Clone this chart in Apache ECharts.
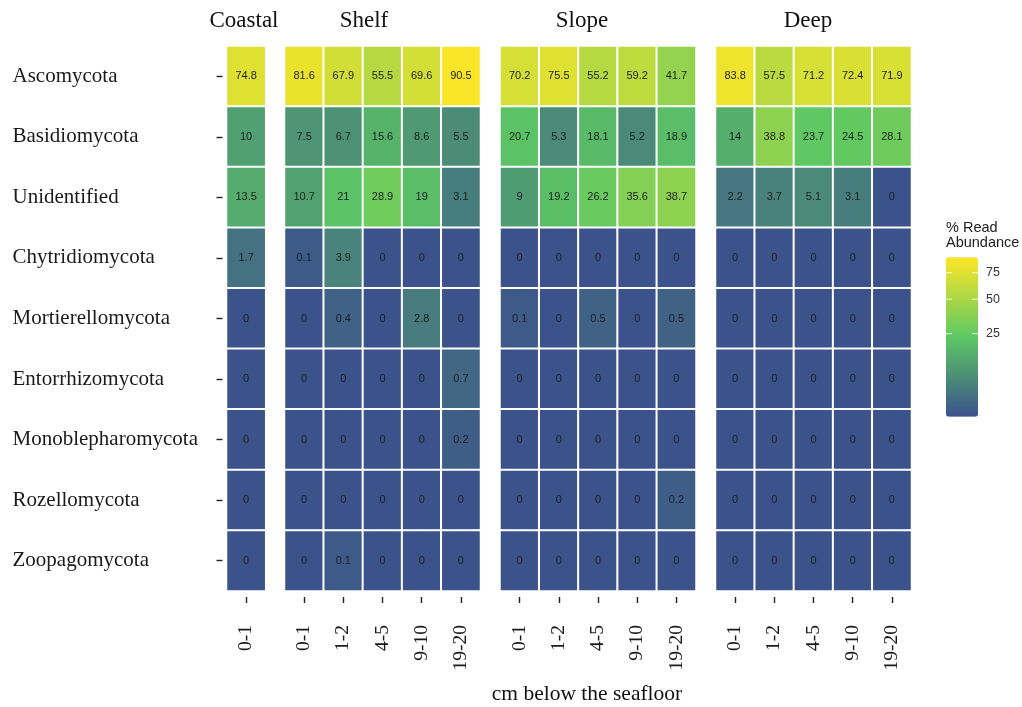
<!DOCTYPE html>
<html>
<head>
<meta charset="utf-8">
<title>Fungal phyla read abundance by zone and depth</title>
<script src="https://cdn.jsdelivr.net/npm/echarts@6/dist/echarts.min.js"></script>
<style>
  html, body { margin: 0; padding: 0; background: #ffffff; }
  #chart { width: 1022px; height: 707px; }
</style>
</head>
<body>
<div id="chart"></div>
<script>
// Phyla, top to bottom
const phyla = [
  'Ascomycota', 'Basidiomycota', 'Unidentified', 'Chytridiomycota',
  'Mortierellomycota', 'Entorrhizomycota', 'Monoblepharomycota',
  'Rozellomycota', 'Zoopagomycota'
];

// Sediment depth intervals (cm)
const coastalDepths = ['0-1'];
const depths = ['0-1', '1-2', '4-5', '9-10', '19-20'];

// % read abundance: one row per phylum, one column per depth
const coastal = [[74.8], [10], [13.5], [1.7], [0], [0], [0], [0], [0]];

const shelf = [
  [81.6, 67.9, 55.5, 69.6, 90.5],
  [7.5, 6.7, 15.6, 8.6, 5.5],
  [10.7, 21, 28.9, 19, 3.1],
  [0.1, 3.9, 0, 0, 0],
  [0, 0.4, 0, 2.8, 0],
  [0, 0, 0, 0, 0.7],
  [0, 0, 0, 0, 0.2],
  [0, 0, 0, 0, 0],
  [0, 0.1, 0, 0, 0]
];

const slope = [
  [70.2, 75.5, 55.2, 59.2, 41.7],
  [20.7, 5.3, 18.1, 5.2, 18.9],
  [9, 19.2, 26.2, 35.6, 38.7],
  [0, 0, 0, 0, 0],
  [0.1, 0, 0.5, 0, 0.5],
  [0, 0, 0, 0, 0],
  [0, 0, 0, 0, 0],
  [0, 0, 0, 0, 0.2],
  [0, 0, 0, 0, 0]
];

const deep = [
  [83.8, 57.5, 71.2, 72.4, 71.9],
  [14, 38.8, 23.7, 24.5, 28.1],
  [2.2, 3.7, 5.1, 3.1, 0],
  [0, 0, 0, 0, 0],
  [0, 0, 0, 0, 0],
  [0, 0, 0, 0, 0],
  [0, 0, 0, 0, 0],
  [0, 0, 0, 0, 0],
  [0, 0, 0, 0, 0]
];

const zoneNames = ['Coastal', 'Shelf', 'Slope', 'Deep'];
const zoneDepths = [coastalDepths, depths, depths, depths];
const zoneValues = [coastal, shelf, slope, deep];

// Colour scale (square-root transformed) and legend breaks
const scaleMax = 92;
const legendBreaks = [25, 50, 75];
const paletteStops = ['#3B528B', '#5DC863', '#FDE725'];

// ---- layout ----
const SERIF = "'Liberation Serif', 'DejaVu Serif', serif";
const SANS = "'Liberation Sans', Arial, sans-serif";
const panelTop = 46;
const panelHeight = 545;
const panels = [
  { left: 226.5, width: 39.2, stripX: 244 },
  { left: 284.5, width: 196, stripX: 364 },
  { left: 500, width: 196, stripX: 582 },
  { left: 715.5, width: 196, stripX: 808 }
];
const bar = { left: 946, top: 257.3, width: 32, height: 159.4 };

const grids = [], xAxes = [], yAxes = [], series = [];

zoneNames.forEach((zone, i) => {
  const p = panels[i];
  grids.push({ left: p.left, top: panelTop, width: p.width, height: panelHeight, containLabel: false });

  xAxes.push({
    type: 'category',
    gridIndex: i,
    data: zoneDepths[i],
    offset: 6,
    axisLine: { show: false },
    axisTick: { show: true, alignWithLabel: true, length: 6, lineStyle: { color: '#222', width: 1.4 } },
    axisLabel: {
      rotate: 90, margin: 28, interval: 0,
      fontFamily: SERIF, fontSize: 19.5, color: '#1a1a1a'
    },
    splitLine: { show: false }
  });

  yAxes.push({
    type: 'category',
    gridIndex: i,
    data: phyla,
    inverse: true,
    show: i === 0,
    offset: 4,
    axisLine: { show: false },
    axisTick: { show: true, alignWithLabel: true, length: 6, lineStyle: { color: '#222', width: 1.4 } },
    axisLabel: {
      align: 'left', margin: 210, interval: 0,
      padding: [0, 0, 4, 0],
      fontFamily: SERIF, fontSize: 21, color: '#1a1a1a'
    },
    splitLine: { show: false }
  });

  const cells = [];
  zoneValues[i].forEach((row, r) => {
    row.forEach((v, c) => cells.push([c, r, v, Math.sqrt(v)]));
  });

  series.push({
    type: 'heatmap',
    name: zone,
    xAxisIndex: i,
    yAxisIndex: i,
    data: cells,
    itemStyle: { borderColor: '#ffffff', borderWidth: 2 },
    label: {
      show: true,
      formatter: (prm) => String(prm.value[2]),
      fontFamily: SANS, fontSize: 11, color: '#1e1e1e'
    },
    emphasis: { disabled: true }
  });
});

// Facet strip titles, axis title, legend title, breaks
const graphics = [];
zoneNames.forEach((zone, i) => {
  graphics.push({
    type: 'text', x: panels[i].stripX, y: 21, silent: true,
    style: { text: zone, align: 'center', verticalAlign: 'middle', font: `23px ${SERIF}`, fill: '#111' }
  });
});
graphics.push({
  type: 'text', x: 587, y: 694, silent: true,
  style: { text: 'cm below the seafloor', align: 'center', verticalAlign: 'middle', font: `21.5px ${SERIF}`, fill: '#111' }
});
graphics.push({
  type: 'text', x: bar.left, y: 228.3, silent: true,
  style: { text: '% Read', align: 'left', verticalAlign: 'middle', font: `14.5px ${SANS}`, fill: '#222' }
});
graphics.push({
  type: 'text', x: bar.left, y: 243.3, silent: true,
  style: { text: 'Abundance', align: 'left', verticalAlign: 'middle', font: `14.5px ${SANS}`, fill: '#222' }
});
legendBreaks.forEach((b) => {
  const y = bar.top + bar.height * (1 - Math.sqrt(b) / Math.sqrt(scaleMax));
  graphics.push({
    type: 'line', silent: true, z: 100,
    shape: { x1: bar.left, y1: y, x2: bar.left + 6, y2: y },
    style: { stroke: 'rgba(255,255,255,0.85)', lineWidth: 1 }
  });
  graphics.push({
    type: 'line', silent: true, z: 100,
    shape: { x1: bar.left + bar.width - 6, y1: y, x2: bar.left + bar.width, y2: y },
    style: { stroke: 'rgba(255,255,255,0.85)', lineWidth: 1 }
  });
  graphics.push({
    type: 'text', x: bar.left + bar.width + 8, y: y, silent: true,
    style: { text: String(b), align: 'left', verticalAlign: 'middle', font: `12.5px ${SANS}`, fill: '#333' }
  });
});

const chart = echarts.init(document.getElementById('chart'), null, { renderer: 'canvas' });
chart.setOption({
  backgroundColor: '#ffffff',
  animation: false,
  grid: grids,
  xAxis: xAxes,
  yAxis: yAxes,
  visualMap: {
    type: 'continuous',
    dimension: 3,
    min: 0,
    max: Math.sqrt(scaleMax),
    seriesIndex: [0, 1, 2, 3],
    inRange: { color: paletteStops },
    orient: 'vertical',
    left: bar.left,
    top: bar.top,
    itemWidth: bar.width,
    itemHeight: bar.height,
    padding: 0,
    calculable: false,
    hoverLink: false,
    text: null,
    showLabel: false
  },
  graphic: graphics,
  series: series
});
</script>
</body>
</html>
